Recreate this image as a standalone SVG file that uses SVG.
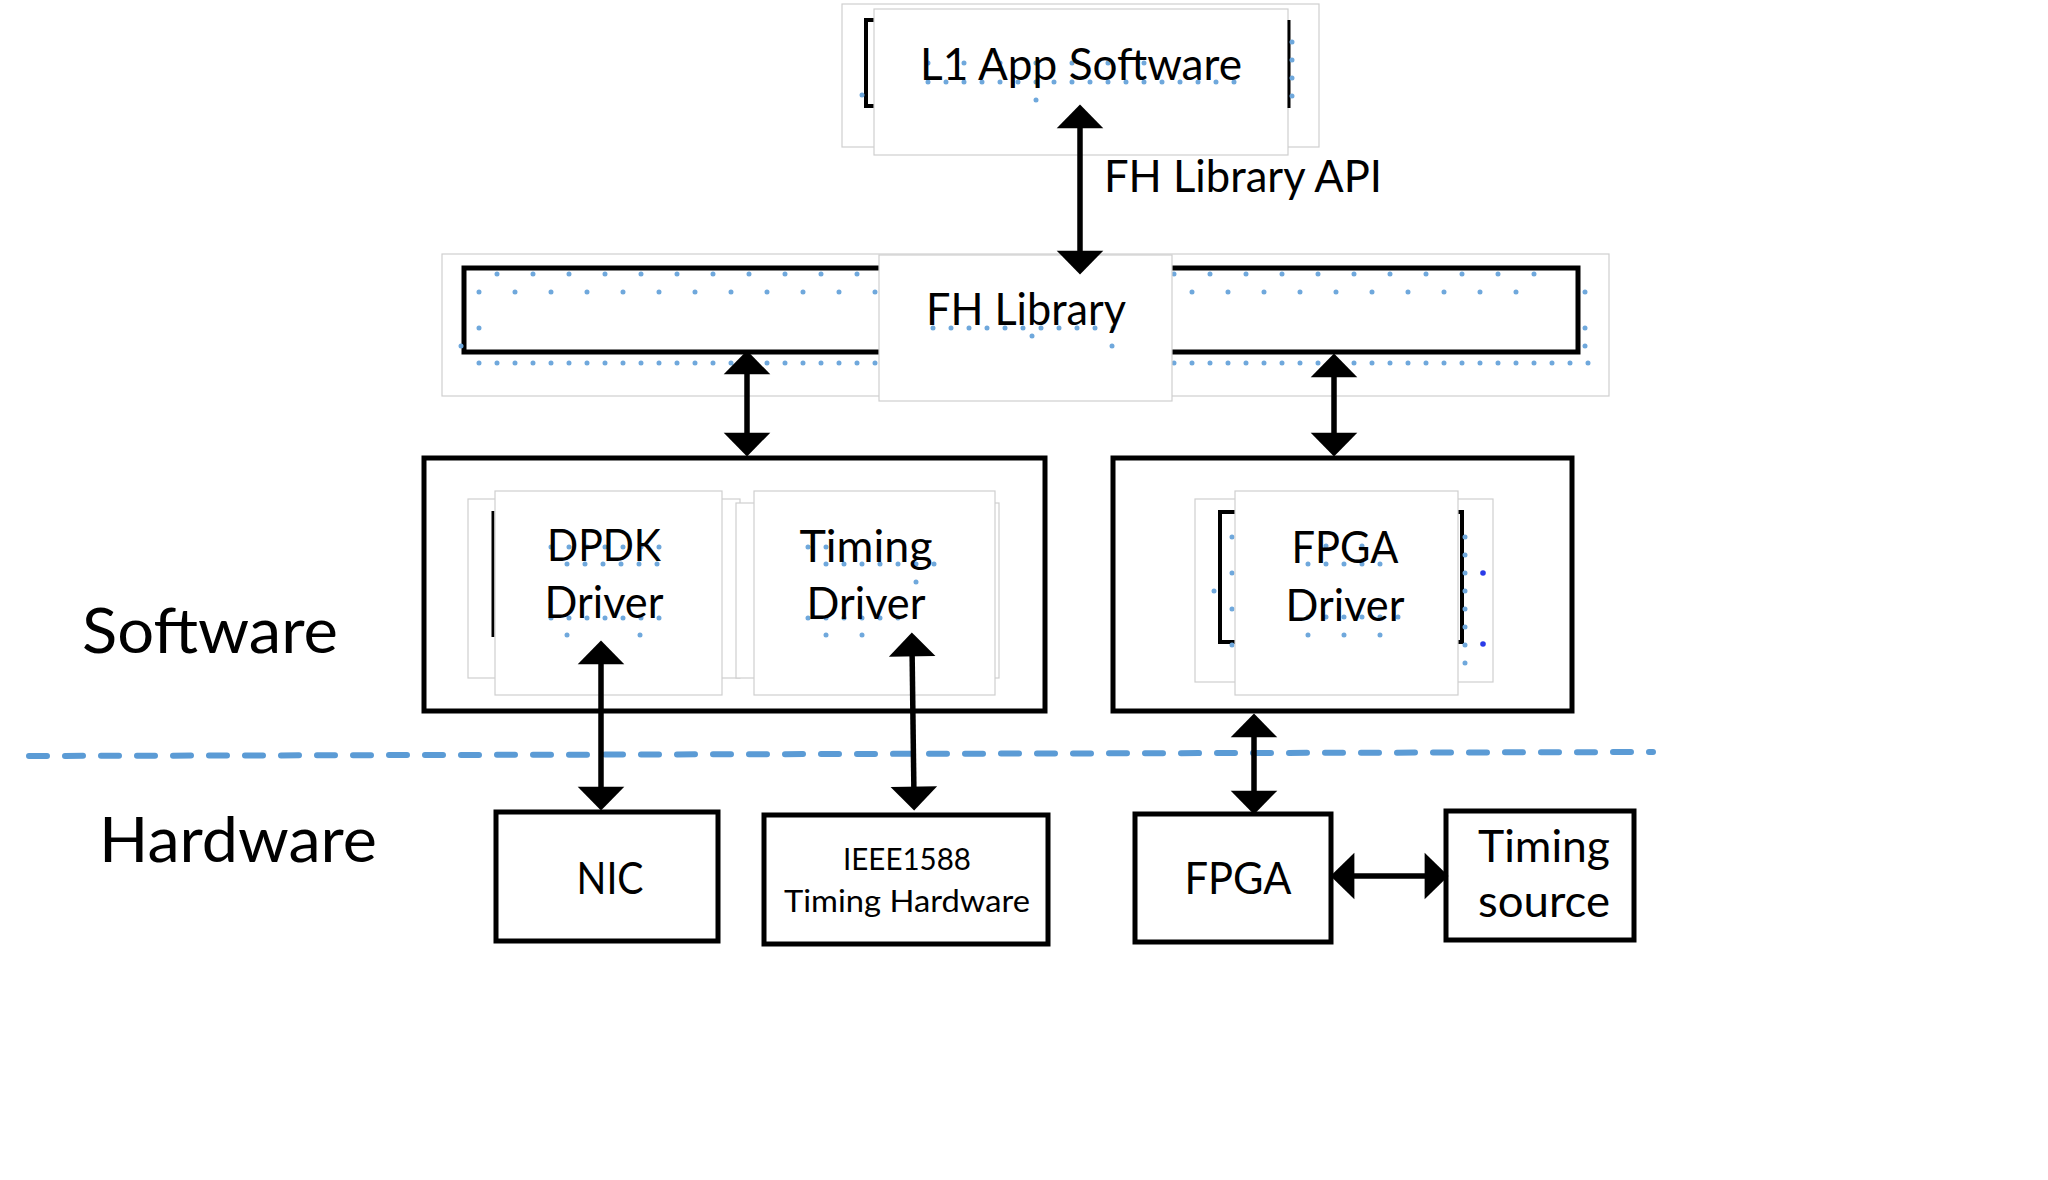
<svg xmlns="http://www.w3.org/2000/svg" width="2048" height="1180" viewBox="0 0 2048 1180">
<style>
.t{font-family:Lato,"Liberation Sans",sans-serif;fill:#000;text-anchor:middle}
.m{font-size:45px}
.s{font-size:31px}
.l{font-size:62px}
.faint{fill:#fff;stroke:#cfcfcf;stroke-width:1.2}
.box{fill:#fff;stroke:#000;stroke-width:5}
.brk{fill:none;stroke:#000;stroke-width:4}
.dots{fill:none;stroke:#6fa8dc;stroke-width:5;stroke-linecap:round}
.arr{stroke:#000;stroke-width:5.5;fill:none}
</style>
<defs>
<marker id="ah" markerUnits="userSpaceOnUse" markerWidth="30" markerHeight="50" viewBox="-12 -22 26 44" refX="0" refY="0" orient="auto-start-reverse">
<path d="M-10,-20.5 L11,0 L-10,20.5 Z" fill="#000"/>
</marker>
</defs>
<rect width="2048" height="1180" fill="#fff"/>

<g id="l1-app">
<rect class="faint" x="842" y="4" width="477" height="143"/>
<path class="brk" d="M874,20 H866 V106 H874"/>
<rect class="faint" x="874" y="9" width="414" height="146"/>
<line x1="1289" y1="20" x2="1289" y2="108" stroke="#000" stroke-width="3"/>
<path class="dots" stroke-dasharray="0 18" d="M928,82 H1240"/>
<path class="dots" stroke-dasharray="0 36" d="M928,63 H1180"/>
<path class="dots" stroke-dasharray="0 18" d="M1292,42 V114"/>
<circle cx="1036" cy="100" r="2.5" fill="#6fa8dc"/>
<circle cx="862" cy="95" r="2.5" fill="#6fa8dc"/>
<text class="t m" x="1081" y="80" textLength="322" lengthAdjust="spacingAndGlyphs">L1 App Software</text>
</g>

<text class="t m" x="1243" y="192" textLength="278" lengthAdjust="spacingAndGlyphs">FH Library API</text>

<g id="fh-library">
<rect class="faint" x="442" y="254" width="1167" height="142"/>
<rect class="box" x="464" y="268" width="1114" height="84" fill="none"/>
<path class="dots" stroke-dasharray="0 36" d="M497,274 H880 M1174,274 H1570"/>
<path class="dots" stroke-dasharray="0 36" d="M479,292 H880 M1192,292 H1550"/>
<path class="dots" stroke-dasharray="0 18" d="M479,363 H880 M1174,363 H1590"/>
<path class="dots" stroke-dasharray="0 36" d="M479,328 V330 M1585,292 V294"/>
<circle cx="1585" cy="328" r="2.5" fill="#6fa8dc"/>
<circle cx="1585" cy="346" r="2.5" fill="#6fa8dc"/>
<circle cx="461" cy="346" r="2.5" fill="#6fa8dc"/>
<rect class="faint" x="879" y="255" width="293" height="146"/>
<path class="dots" stroke-dasharray="0 18" d="M933,328 H1115"/>
<circle cx="1032" cy="336" r="2.5" fill="#6fa8dc"/>
<circle cx="1112" cy="346" r="2.5" fill="#6fa8dc"/>
<text class="t m" x="1026" y="325" textLength="200" lengthAdjust="spacingAndGlyphs">FH Library</text>
</g>

<g id="sw-nic-timing">
<rect class="box" x="424" y="458" width="621" height="253"/>
<rect class="faint" x="468" y="499" width="272" height="179"/>
<line x1="493" y1="511" x2="493" y2="637" stroke="#000" stroke-width="3"/>
<rect class="faint" x="736" y="503" width="263" height="175"/>
</g>

<g id="dpdk-driver">
<rect class="faint" x="495" y="491" width="227" height="204"/>
<path class="dots" stroke-dasharray="0 18" d="M551,547 H660 M567,564 H660 M551,618 H660"/>
<circle cx="567" cy="635" r="2.5" fill="#6fa8dc"/>
<circle cx="640" cy="635" r="2.5" fill="#6fa8dc"/>
<text class="t m" x="604" y="561" textLength="114" lengthAdjust="spacingAndGlyphs">DPDK</text>
<text class="t m" x="604" y="618" textLength="119" lengthAdjust="spacingAndGlyphs">Driver</text>
</g>

<g id="timing-driver">
<rect class="faint" x="754" y="491" width="241" height="204"/>
<path class="dots" stroke-dasharray="0 18" d="M808,547 H830 M826,564 H935 M808,618 H915"/>
<circle cx="826" cy="635" r="2.5" fill="#6fa8dc"/>
<circle cx="862" cy="635" r="2.5" fill="#6fa8dc"/>
<circle cx="916" cy="582" r="2.5" fill="#6fa8dc"/>
<text class="t m" x="866" y="562" textLength="133" lengthAdjust="spacingAndGlyphs">Timing</text>
<text class="t m" x="866" y="619" textLength="119" lengthAdjust="spacingAndGlyphs">Driver</text>
</g>

<g id="fpga-driver">
<rect class="box" x="1113" y="458" width="459" height="253"/>
<rect class="faint" x="1195" y="499" width="298" height="183"/>
<path class="brk" d="M1235,512 H1220 V642 H1235"/>
<path class="brk" d="M1458,512 H1462 V642 H1458"/>
<path class="dots" stroke-dasharray="0 36" d="M1232,537 V646"/>
<path class="dots" stroke-dasharray="0 18" d="M1465,537 V664"/>
<circle cx="1214" cy="591" r="2.5" fill="#6fa8dc"/>
<circle cx="1483" cy="573" r="2.8" fill="#2a3be8"/>
<circle cx="1483" cy="644" r="2.8" fill="#2a3be8"/>
<rect class="faint" x="1235" y="491" width="223" height="204"/>
<path class="dots" stroke-dasharray="0 18" d="M1308,564 H1382 M1308,617 H1400"/>
<path class="dots" stroke-dasharray="0 36" d="M1326,546 H1364 M1308,635 H1382"/>
<text class="t m" x="1345" y="563" textLength="107" lengthAdjust="spacingAndGlyphs">FPGA</text>
<text class="t m" x="1345" y="621" textLength="119" lengthAdjust="spacingAndGlyphs">Driver</text>
</g>

<g id="labels">
<text class="t l" x="210" y="653" textLength="256" lengthAdjust="spacingAndGlyphs">Software</text>
<text class="t l" x="238" y="862" textLength="278" lengthAdjust="spacingAndGlyphs">Hardware</text>
</g>

<line id="divider" x1="29" y1="756" x2="1653" y2="752" stroke="#5b9bd5" stroke-width="6" stroke-linecap="round" stroke-dasharray="18 18"/>

<g id="nic">
<rect class="box" x="496" y="812" width="222" height="129"/>
<text class="t m" x="610" y="894" textLength="67" lengthAdjust="spacingAndGlyphs">NIC</text>
</g>

<g id="ieee1588">
<rect class="box" x="764" y="815" width="284" height="129"/>
<text class="t s" x="907" y="870" textLength="128" lengthAdjust="spacingAndGlyphs">IEEE1588</text>
<text class="t s" x="907" y="912" textLength="246" lengthAdjust="spacingAndGlyphs">Timing Hardware</text>
</g>

<g id="fpga">
<rect class="box" x="1135" y="814" width="196" height="128"/>
<text class="t m" x="1238" y="894" textLength="107" lengthAdjust="spacingAndGlyphs">FPGA</text>
</g>

<g id="timing-source">
<rect class="box" x="1446" y="811" width="188" height="129"/>
<text class="t m" x="1544" y="862" textLength="132" lengthAdjust="spacingAndGlyphs">Timing</text>
<text class="t m" x="1544" y="917" textLength="132" lengthAdjust="spacingAndGlyphs">source</text>
</g>

<g id="connectors">
<line class="arr" x1="1080" y1="117" x2="1080" y2="262" marker-start="url(#ah)" marker-end="url(#ah)"/>
<line class="arr" x1="747" y1="363" x2="747" y2="444" marker-start="url(#ah)" marker-end="url(#ah)"/>
<line class="arr" x1="1334" y1="366" x2="1334" y2="444" marker-start="url(#ah)" marker-end="url(#ah)"/>
<line class="arr" x1="601" y1="653" x2="601" y2="798" marker-start="url(#ah)" marker-end="url(#ah)"/>
<line class="arr" x1="912" y1="645" x2="914" y2="798" marker-start="url(#ah)" marker-end="url(#ah)"/>
<line class="arr" x1="1254" y1="726" x2="1254" y2="802" marker-start="url(#ah)" marker-end="url(#ah)"/>
<line class="arr" x1="1343" y1="876" x2="1436" y2="876" marker-start="url(#ah)" marker-end="url(#ah)"/>
</g>
</svg>
